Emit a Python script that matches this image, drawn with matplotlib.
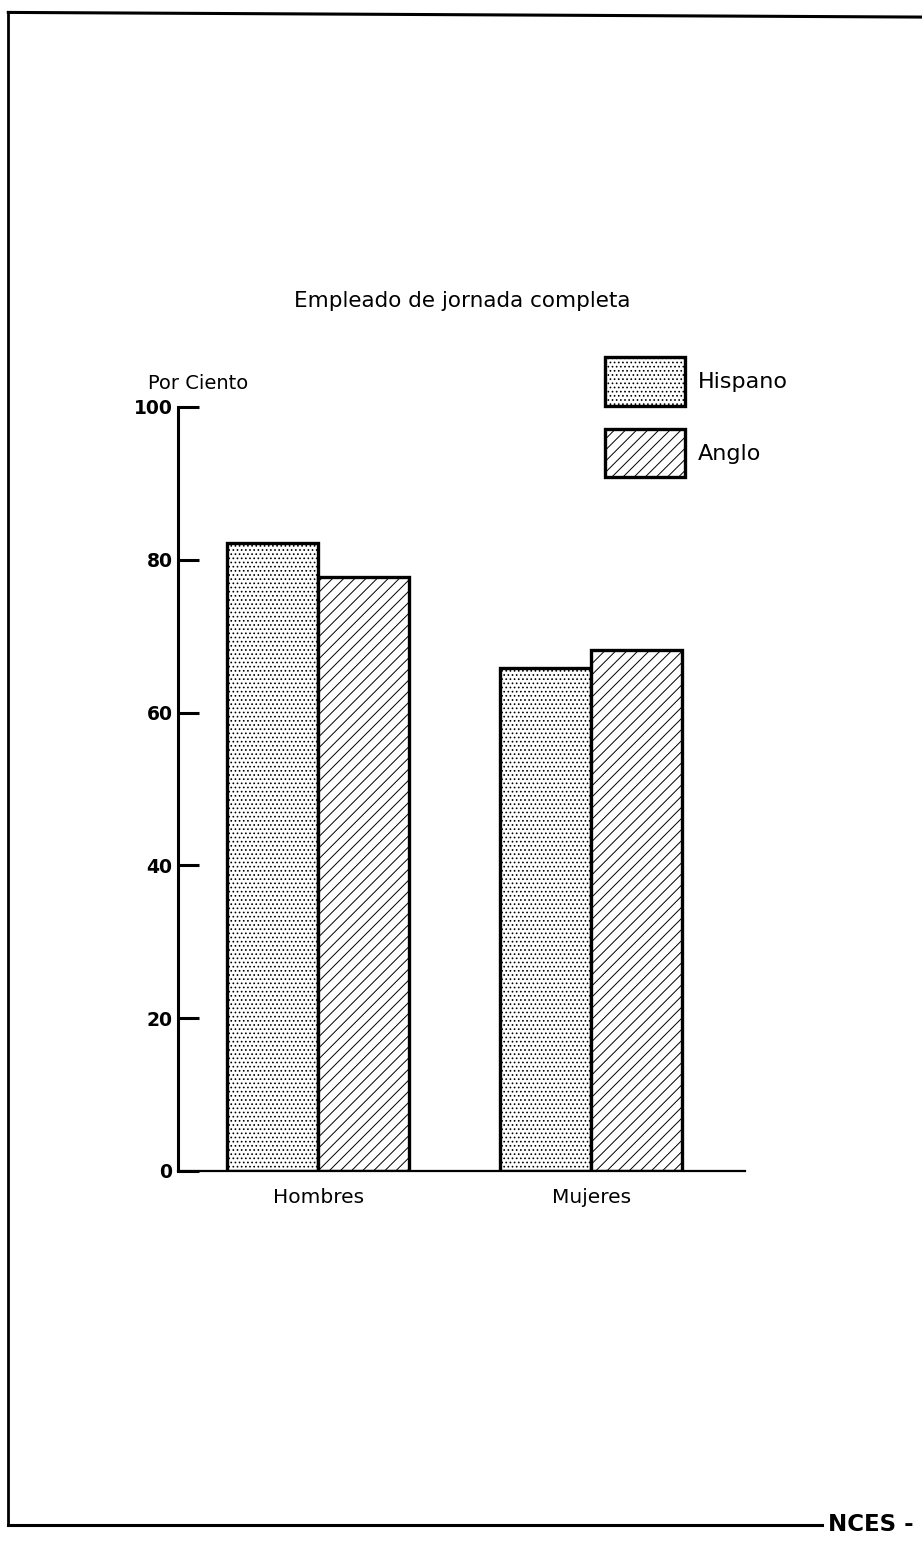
import matplotlib.pyplot as plt
from matplotlib.lines import Line2D

plt.rcParams['font.family'] = ['DejaVu Sans']
plt.rcParams['hatch.linewidth'] = 0.7

groups = ['Hombres', 'Mujeres']
series = ['Hispano', 'Anglo']
hispano = [82.2, 65.8]
anglo = [77.7, 68.2]
yticks = [0, 20, 40, 60, 80, 100]

fig = plt.figure(figsize=(9.22, 15.52), dpi=100)
ax = fig.add_axes([0.193, 0.2455, 0.615, 0.4923])

centers = [0, 3]
w = 1.0
ax.bar([c - w / 2 for c in centers], hispano, width=w, facecolor='white',
       edgecolor='black', linewidth=2.4, hatch='....', label=series[0])
ax.bar([c + w / 2 for c in centers], anglo, width=w, facecolor='white',
       edgecolor='black', linewidth=2.4, hatch='///', label=series[1])

ax.set_xlim(-1.54, 4.69)
ax.set_ylim(0, 100)
ax.set_yticks(yticks)
ax.set_xticks(centers)
ax.set_xticklabels(groups, fontsize=14.5)
ax.tick_params(axis='x', length=0, pad=12)
ax.tick_params(axis='y', direction='in', length=15, width=2.2, pad=4, labelsize=13.5)
for lbl in ax.get_yticklabels():
    lbl.set_fontweight('bold')

for s in ['top', 'right']:
    ax.spines[s].set_visible(False)
ax.spines['left'].set_linewidth(2.2)
ax.spines['bottom'].set_linewidth(1.6)

# title and axis caption
fig.text(0.501, 0.806, 'Empleado de jornada completa', ha='center', va='center', fontsize=15.5)
fig.text(0.161, 0.753, 'Por Ciento', ha='left', va='center', fontsize=14)

ax.legend(loc='upper left', bbox_to_anchor=(0.753, 1.0654), frameon=False,
          borderpad=0, borderaxespad=0,
          handlelength=3.6, handleheight=3.0, labelspacing=1.03,
          handletextpad=0.58, fontsize=16)

# page frame
fig.add_artist(Line2D([0.009, 0.009], [0.992, 0.0175], color='black', lw=2))
fig.add_artist(Line2D([0.009, 1.0], [0.992, 0.989], color='black', lw=2.2))
fig.add_artist(Line2D([0.009, 0.892], [0.0175, 0.0175], color='black', lw=2.2))
fig.text(0.898, 0.0175, 'NCES -', ha='left', va='center', fontsize=16.5, fontweight='bold')

fig.savefig('out.png', dpi=100, facecolor='white')
